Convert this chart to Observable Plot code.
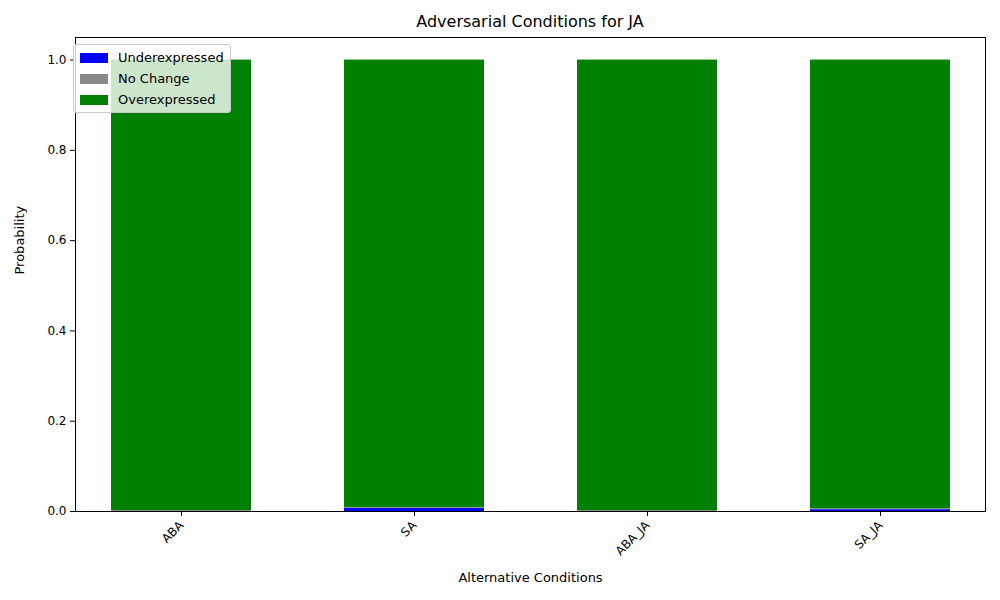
<!DOCTYPE html>
<html><head><meta charset="utf-8">
<script src="https://cdn.jsdelivr.net/npm/d3@7"></script>
<script src="https://cdn.jsdelivr.net/npm/@observablehq/plot@0.6"></script>
<style>
body{margin:0;font-family:"DejaVu Sans",sans-serif;}
#wrap{position:relative;width:1000px;height:600px;}
#title{position:absolute;top:12px;left:75px;width:910px;text-align:center;font-size:16px;}
#legend{position:absolute;left:73px;top:44px;background:rgba(255,255,255,0.8);border:1px solid #ccc;border-radius:3px;padding:2px 6px;font-size:13px;line-height:21px;}
#legend span{display:inline-block;width:28px;height:10px;margin-right:10px;vertical-align:-1px;}
</style></head>
<body>
<div id="wrap"><div id="chart"></div><div id="title">Adversarial Conditions for JA</div>
<div id="legend"><div><span style="background:blue"></span>Underexpressed</div><div><span style="background:#888"></span>No Change</div><div><span style="background:green"></span>Overexpressed</div></div></div>
<script>
const conditions = ['ABA', 'SA', 'ABA_JA', 'SA_JA']
const underexpressed = [0.0, 0.007, 0.0, 0.004]
const noChange = [0.002, 0.002, 0.002, 0.002]
const overexpressed = conditions.map((c, i) => 1 - underexpressed[i] - noChange[i])
const states = ['Underexpressed', 'No Change', 'Overexpressed']
const yTicks = [0, 0.2, 0.4, 0.6, 0.8, 1.0]

const data = []
conditions.forEach((c, i) => {
  data.push({cond: c, state: states[0], p: underexpressed[i]})
  data.push({cond: c, state: states[1], p: noChange[i]})
  data.push({cond: c, state: states[2], p: overexpressed[i]})
})

const chart = Plot.plot({
  width: 1000, height: 600,
  marginTop: 37, marginLeft: 75, marginRight: 15, marginBottom: 89,
  style: {fontFamily: 'DejaVu Sans, sans-serif', fontSize: '12px', color: 'black'},
  x: {domain: conditions, paddingInner: 0.4, paddingOuter: 0.15, align: 0.5, label: null, tickRotate: -45, tickSize: 5},
  y: {domain: [0, 1.05], ticks: yTicks, tickFormat: '.1f', label: null, tickSize: 5},
  color: {domain: states, range: ['blue', '#888888', 'green']},
  marks: [
    Plot.barY(data, {x: 'cond', y: 'p', fill: 'state', order: states}),
    Plot.frame({stroke: 'black'}),
    Plot.text(['Alternative Conditions'], {frameAnchor: 'bottom', dy: 70, fontSize: 13}),
    Plot.text(['Probability'], {frameAnchor: 'left', dx: -56, rotate: -90, fontSize: 13})
  ]
})
d3.select('#chart').append(() => chart)
</script>
</body></html>
